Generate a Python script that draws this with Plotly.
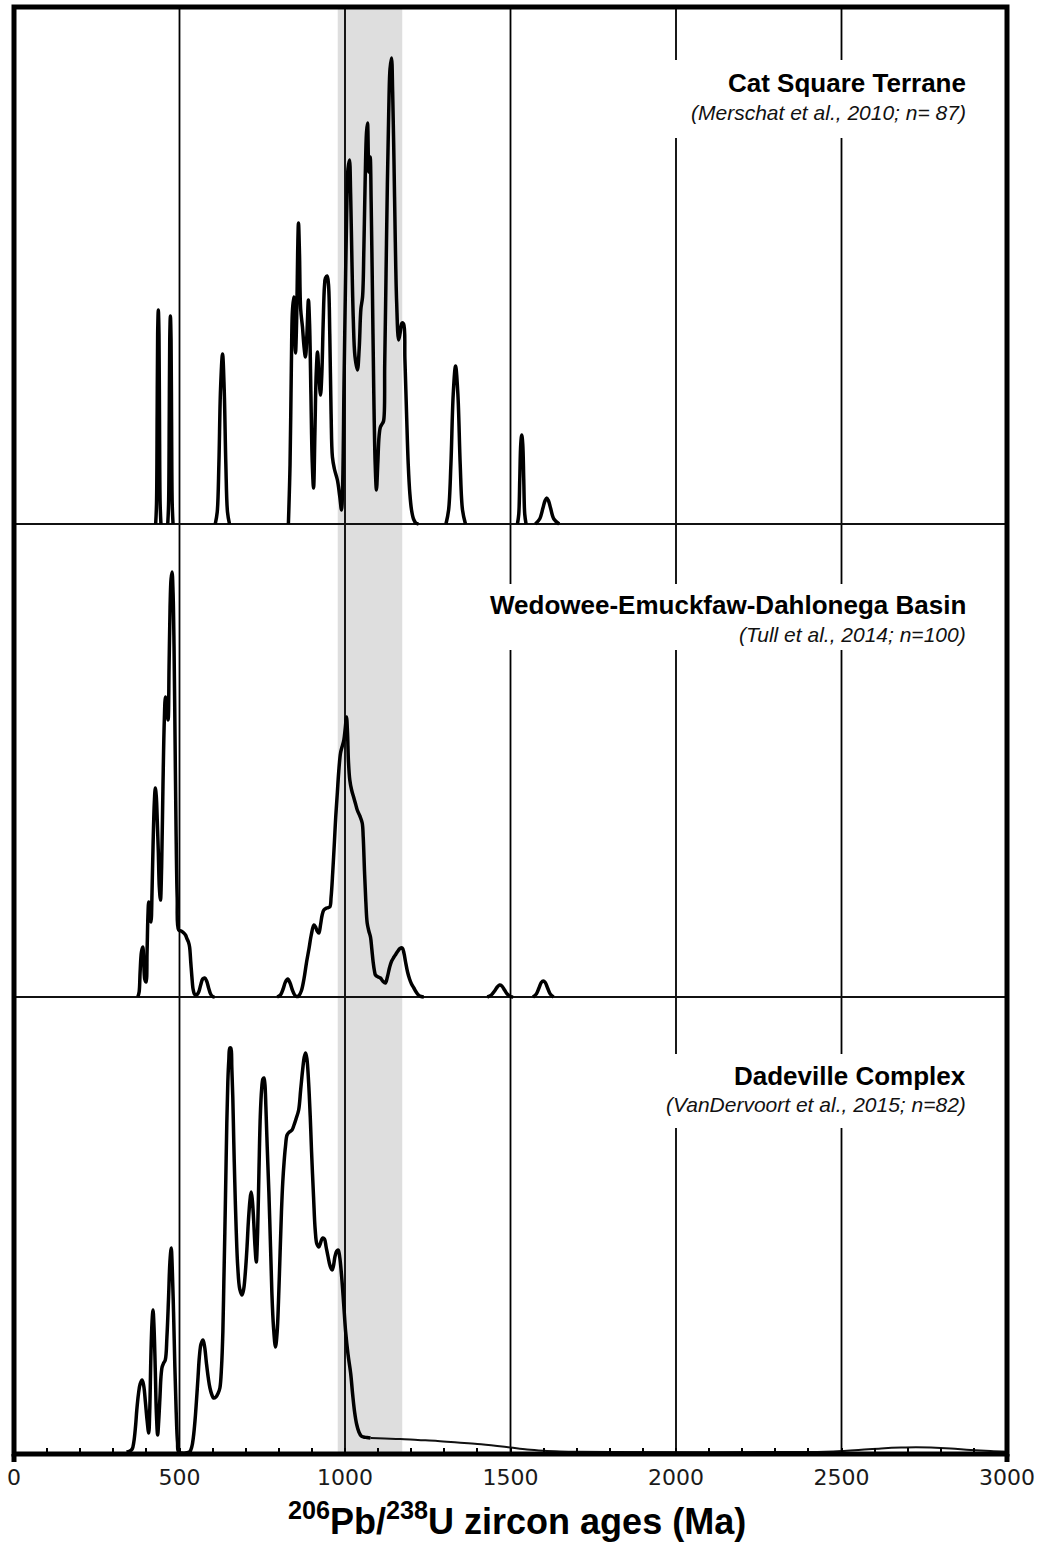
import plotly.graph_objects as go

# ---------------- data ----------------
x_tick0, x_dtick, x_minor = 0, 500, 100
grid_ages = [500, 1000, 1500, 2000, 2500]
band_ages = [978, 1173]

panel_titles = ["Cat Square Terrane", "Wedowee-Emuckfaw-Dahlonega Basin", "Dadeville Complex"]
panel_refs = ["(Merschat et al., 2010; n= 87)", "(Tull et al., 2014; n=100)", "(VanDervoort et al., 2015; n=82)"]

# Cat Square Terrane probability curve (age Ma, relative height); None separates peaks
cat_age = [428, 430.5, 432.5, 434, 436, 438, 439.5, 441.5, 444, None,
           464.5, 467, 469, 470.5, 472.5, 474.5, 476, 478, 480.5, None,
           608, 614, 619, 624, 630, 635, 640, 645, 651, None,
           829, 834, 838, 841, 845, 848, 850.5, 854, 857, 859.5, 862.5, 866, 871.5, 876, 880.5,
           885, 889.5, 893, 897, 901, 905, 909, 913, 917, 921, 926, 930, 934, 938, 941, 946, 950,
           954, 958, 962, 968, 977, 984, 989.5, 993, 997, 1001, 1005, 1009, 1013.5, 1017, 1021,
           1025, 1030, 1037.5, 1043, 1048, 1053, 1057, 1061, 1065, 1068, 1072, 1076, 1079, 1083,
           1087, 1091, 1095, 1099, 1103, 1107, 1112, 1116.5, 1120, 1124, 1128, 1132, 1136, 1140.5,
           1144, 1148, 1152, 1156, 1162, 1167, 1172, 1177, 1181, 1186, 1191, 1196, 1201, 1207,
           1214, 1222, None,
           1305, 1313, 1320, 1327, 1334, 1341, 1348, 1355, 1364, None,
           1521, 1525, 1528, 1531, 1534, 1537, 1540, 1543, 1547, None,
           1575, 1588, 1598, 1604, 1609.5, 1615, 1621, 1631, 1647]
cat_h = [0, 20, 110, 190, 214, 190, 110, 20, 0, None,
         0, 20, 105, 184, 208, 184, 105, 20, 0, None,
         0, 12, 60, 135, 170, 135, 60, 12, 0, None,
         0, 60, 160, 212, 227, 195, 171, 205, 272, 301, 270, 215, 197, 178, 167,
         190, 224, 200, 130, 62, 36, 90, 150, 172, 150, 129, 150, 200, 238, 246, 248, 240,
         190, 110, 67, 55, 44, 28, 14, 40, 140, 230, 310, 355, 364, 330, 262,
         205, 168, 154, 176, 215, 227, 275, 345, 392, 401, 352, 367, 322, 230,
         130, 62, 34, 60, 88, 97, 100, 103, 160, 250, 340, 410, 455, 466,
         432, 362, 282, 222, 184, 192, 201, 200, 165, 110, 60, 30, 14, 5,
         1, 0, None,
         0, 14, 60, 130, 158, 130, 60, 14, 0, None,
         0, 10, 45, 80, 89, 80, 45, 10, 0, None,
         0, 5, 16, 23, 26, 23, 16, 5, 0]

# Wedowee-Emuckfaw-Dahlonega Basin curve
wed_age = [374, 378, 381, 385, 389, 392, 395, 399, 402, 404.5, 407, 410.5, 414, 417, 420, 424,
           427, 430, 433, 436, 439, 442.5, 446, 450, 454, 457.5, 461.5, 465.5, 468.5, 471.5,
           474.5, 477.5, 480.5, 483.5, 486.5, 489.5, 493, 497.5, 505, 513, 518, 523, 527, 530.5,
           534, 537.5, 541, 545, 549, 553, 558, 564, 570, 576, 582, 588, 594, 600, 606, None,
           795, 805, 813, 820, 827, 834, 841, 848, 854, 860, 868, 876, 884, 891, 898, 906, 911,
           916, 921, 926, 931, 936, 945, 954, 958, 963, 968, 972, 977, 981, 986.5, 991, 996.5,
           1000.5, 1004.5, 1007.5, 1010.5, 1014.5, 1020, 1026, 1032, 1037, 1045, 1052, 1055,
           1059, 1063, 1067, 1072, 1077, 1081, 1085, 1089, 1092, 1100, 1107, 1114, 1122, 1128,
           1135, 1141, 1148, 1154, 1160, 1166, 1173, 1178, 1183, 1189, 1195, 1201, 1208, 1215,
           1222, 1230, 1238, None,
           1430, 1442, 1452, 1460, 1467, 1474, 1482, 1490, 1500, 1508, None,
           1568, 1578, 1586, 1593, 1599, 1605, 1612, 1620, 1630]
wed_h = [0, 5, 25, 45, 50, 35, 18, 15, 45, 80, 95, 85, 75, 105, 150, 195,
         209, 200, 175, 145, 110, 97, 130, 210, 275, 300, 290, 277, 330, 390,
         418, 425, 405, 350, 260, 170, 100, 67, 66, 64, 62, 58, 55, 50,
         35, 20, 8, 3, 2, 2.5, 5, 12, 18, 19, 16, 9, 3, 0.5, 0, None,
         0, 2, 8, 15, 18, 14, 7, 2, 0.5, 1, 6, 18, 35, 48, 62, 72, 70,
         66, 64, 72, 82, 87, 89, 90, 100, 125, 155, 180, 205, 225, 244, 250, 257,
         268, 280, 265, 235, 217, 207, 200, 193, 187, 181, 174, 160,
         125, 95, 74, 66, 60, 48, 35, 26, 22, 20, 19, 16, 14, 20,
         30, 36, 40, 43, 46, 48.5, 49, 44, 35, 25, 18, 13, 9, 5,
         2, 0.5, 0, None,
         0, 2, 6, 10, 12, 11, 7, 3, 0.5, 0, None,
         0, 3, 9, 14.5, 16, 14.5, 9, 3, 0]

# Dadeville Complex curve (main part) and its long low tail
dad_age = [340, 350, 357, 362, 367, 371, 376, 381, 387, 392, 397, 402, 407, 410, 413.5, 417, 420,
           423, 427, 430, 434, 437, 441, 444, 447.5, 452, 457, 462, 467, 471, 475, 478, 482,
           486, 490, 494, 498, 530, 537, 542, 547, 551, 556, 560, 565, 571, 576, 581, 587, 592,
           598, 603, 610, 617, 622, 627, 631, 634, 637, 640, 643, 646, 649, 652, 655, 658, 661,
           664, 667, 671, 676, 682, 689, 694, 699, 704, 708, 713, 716.5, 720, 724, 728, 732, 736,
           740, 744, 748, 752, 755, 758, 761, 765, 770, 775, 779, 784, 790, 795, 799, 804, 808,
           812, 816, 820, 825, 832, 840, 846, 852, 860, 866, 872, 877, 881, 885, 890, 895, 899,
           905, 910, 915, 921, 925, 929, 933, 938, 943, 949, 955, 961, 965, 970, 975, 979.5, 984,
           990, 996, 1002, 1009, 1017, 1023, 1029, 1035, 1042, 1049, 1056, 1066, 1077]
dad_h = [0, 1, 3, 10, 25, 42, 58, 68, 72, 66, 50, 32, 19, 40, 95, 130, 142,
         125, 80, 40, 17, 30, 55, 75, 85, 89, 92, 115, 155, 190, 204, 185, 140,
         85, 40, 10, 0, 0, 5, 15, 32, 50, 75, 95, 108, 112, 105, 90, 74, 64,
         57, 54, 55, 59, 64, 85, 120, 170, 220, 275, 330, 370, 392, 404, 404, 385, 355,
         310, 270, 225, 185, 163, 157, 163, 180, 205, 230, 252, 260, 252, 232, 206, 190, 220,
         280, 335, 362, 373, 374, 368, 345, 305, 260, 205, 160, 125, 105, 120, 150, 200, 240,
         270, 290, 305, 317, 320, 322, 327, 333, 342, 362, 382, 395, 399, 393, 370, 335, 300,
         255, 222, 208, 205, 208, 212, 214, 213, 205, 195, 186, 182, 186, 196, 201, 202, 195,
         175, 148, 120, 98, 79, 58, 40, 28, 20, 16, 15, 14.5, 14]
dad_tail_age = [1077, 1120, 1167, 1220, 1280, 1340, 1400, 1460, 1500, 1550, 1600, 1650, 1700,
                1800, 2400, 2450, 2500, 2560, 2620, 2680, 2725, 2770, 2830, 2890, 2950, 3000]
dad_tail_h = [14, 13.5, 13, 12, 11, 9.5, 8, 6, 4.5, 2.5, 1.3, 0.6, 0.2,
              0, 0, 0.3, 1, 2.3, 3.6, 4.5, 4.8, 4.5, 3.5, 2, 0.9, 0.3]

# ---------------- layout geometry (pixels of the 1047x1547 page) ----------------
W, H = 1047, 1547
L, R, T, B = 13.7, 1007.0, 7.0, 1454.0
PH = B - T


def py(ypx):
    return (B - ypx) / PH


def px(xpx):
    return (xpx - L) / (R - L)


thick = dict(color="black", width=3.5, shape="spline", smoothing=1)
thin = dict(color="#111111", width=2, shape="spline", smoothing=1)

fig = go.Figure()
fig.add_trace(go.Scatter(x=[0, 3000], y=[0, 0], mode="lines", line=dict(color="#111111", width=2),
                         xaxis="x", yaxis="y", hoverinfo="skip"))
fig.add_trace(go.Scatter(x=cat_age, y=cat_h, mode="lines", line=thick, connectgaps=False,
                         xaxis="x", yaxis="y", name=panel_titles[0]))
fig.add_trace(go.Scatter(x=[0, 3000], y=[0, 0], mode="lines", line=dict(color="#111111", width=2),
                         xaxis="x", yaxis="y2", hoverinfo="skip"))
fig.add_trace(go.Scatter(x=wed_age, y=wed_h, mode="lines", line=thick, connectgaps=False,
                         xaxis="x", yaxis="y2", name=panel_titles[1]))
fig.add_trace(go.Scatter(x=dad_tail_age, y=dad_tail_h, mode="lines", line=thin,
                         xaxis="x", yaxis="y3", name=panel_titles[2] + " tail"))
fig.add_trace(go.Scatter(x=dad_age, y=dad_h, mode="lines", line=thick,
                         xaxis="x", yaxis="y3", name=panel_titles[2]))

shapes = []
shapes.append(dict(type="rect", xref="x", yref="paper", x0=band_ages[0], x1=band_ages[1], y0=0, y1=1,
                   fillcolor="#dedede", line=dict(width=0), layer="below"))
for g in grid_ages:
    shapes.append(dict(type="line", xref="x", yref="paper", x0=g, x1=g, y0=0, y1=1,
                       line=dict(color="black", width=1.8), layer="below"))
# white boxes behind the panel labels (interrupt the grid lines)
for (x0, x1, ytop, ybot) in [(1900, 2600, 60, 138), (1400, 2600, 584, 650), (1900, 2600, 1054, 1128)]:
    shapes.append(dict(type="rect", xref="x", yref="paper", x0=x0, x1=x1, y0=py(ybot), y1=py(ytop),
                       fillcolor="white", line=dict(width=0), layer="below"))
# frame
shapes.append(dict(type="rect", xref="paper", yref="paper", x0=0, x1=1, y0=0, y1=1,
                   line=dict(color="black", width=5), layer="above"))
for xx in (0, 1):
    shapes.append(dict(type="line", xref="paper", yref="paper", x0=xx, x1=xx, y0=py(1462), y1=0,
                       line=dict(color="black", width=5), layer="above"))

annotations = []
label_y = [(83, 112), (605, 634), (1076, 1104)]
for t, r, (yt, ys) in zip(panel_titles, panel_refs, label_y):
    annotations.append(dict(text="<b>" + t + "</b>", xref="paper", yref="paper", x=px(968), y=py(yt),
                            xanchor="right", yanchor="middle", showarrow=False,
                            font=dict(family="Liberation Sans, Arial, sans-serif", size=26, color="black")))
    annotations.append(dict(text="<i>" + r + "</i>", xref="paper", yref="paper", x=px(968), y=py(ys),
                            xanchor="right", yanchor="middle", showarrow=False,
                            font=dict(family="Liberation Sans, Arial, sans-serif", size=21, color="#111111")))
annotations.append(dict(text="<b><sup>206</sup>Pb/<sup>238</sup>U zircon ages (Ma)</b>",
                        xref="paper", yref="paper", x=px(517), y=py(1519), xanchor="center", yanchor="middle",
                        showarrow=False, font=dict(family="Liberation Sans, Arial, sans-serif", size=36, color="black")))

fig.update_layout(
    width=W, height=H,
    margin=dict(l=L, r=W - R, t=T, b=H - B, pad=0),
    paper_bgcolor="white", plot_bgcolor="rgba(0,0,0,0)",
    showlegend=False,
    xaxis=dict(domain=[0, 1], range=[0, 3000], anchor="y3", tickmode="linear", tick0=x_tick0, dtick=x_dtick,
               ticks="inside", ticklen=6, tickwidth=2, tickcolor="black",
               minor=dict(dtick=x_minor, ticks="inside", ticklen=6, tickwidth=2, tickcolor="black"),
               showgrid=False, zeroline=False, showline=False, ticklabelstandoff=8,
               tickfont=dict(family="DejaVu Sans", size=22, color="#1a1a1a")),
    yaxis=dict(domain=[py(530), 1], range=[-6, 517], visible=False, anchor="x"),
    yaxis2=dict(domain=[py(1003), py(524)], range=[-6, 473], visible=False, anchor="x"),
    yaxis3=dict(domain=[0, py(997)], range=[-2, 455], visible=False, anchor="x"),
    shapes=shapes, annotations=annotations,
)

fig.write_html("out.html")
